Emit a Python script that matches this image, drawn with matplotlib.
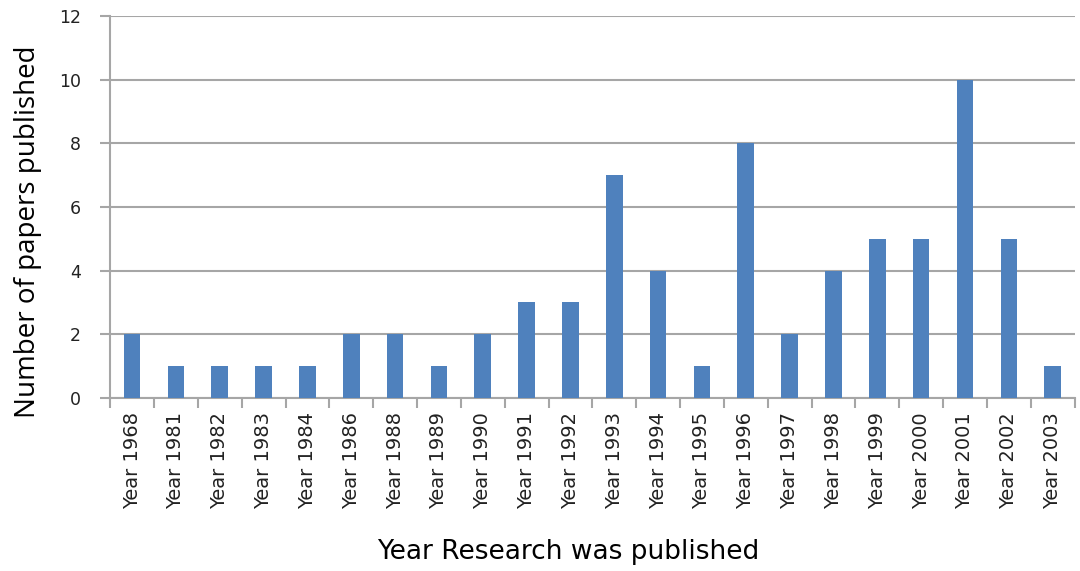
import matplotlib
matplotlib.use("Agg")
import matplotlib.pyplot as plt
import numpy as np

years = ["Year 1968", "Year 1981", "Year 1982", "Year 1983", "Year 1984", "Year 1986",
         "Year 1988", "Year 1989", "Year 1990", "Year 1991", "Year 1992", "Year 1993",
         "Year 1994", "Year 1995", "Year 1996", "Year 1997", "Year 1998", "Year 1999",
         "Year 2000", "Year 2001", "Year 2002", "Year 2003"]
papers = [2, 1, 1, 1, 1, 2, 2, 1, 2, 3, 3, 7, 4, 1, 8, 2, 4, 5, 5, 10, 5, 1]
yticks = [0, 2, 4, 6, 8, 10, 12]

fig = plt.figure(figsize=(10.8, 5.71), dpi=100)
ax = fig.add_axes([0.102, 0.303, 0.893, 0.669])

x = np.arange(len(years))
ax.bar(x, papers, width=0.38, color="#4F81BD", zorder=3)

ax.set_xlim(-0.5, len(years) - 0.5)
ax.set_ylim(0, 12)
ax.set_yticks(yticks)
ax.set_yticklabels([str(v) for v in yticks], fontsize=12.5, color="#222222")
ax.yaxis.grid(True, color="#a6a6a6", linewidth=1.5, zorder=0)
ax.set_axisbelow(True)

ax.set_xticks(x)
ax.set_xticklabels(years, rotation=90, fontsize=14, color="#222222")
ax.set_xticks(np.arange(-0.5, len(years)), minor=True)
ax.tick_params(axis="x", which="major", length=0, pad=10)
ax.tick_params(axis="x", which="minor", length=7, width=1.5, color="#a6a6a6")
ax.tick_params(axis="y", length=7, width=1.5, color="#a6a6a6", pad=14)

for s in ["top", "right"]:
    ax.spines[s].set_visible(False)
for s in ["left", "bottom"]:
    ax.spines[s].set_color("#a6a6a6")
    ax.spines[s].set_linewidth(1.5)

ax.set_ylabel("Number of papers published", fontsize=20, family="Open Sans", va="center")
ax.yaxis.set_label_coords(-0.085, 0.435)
ax.set_xlabel("Year Research was published", fontsize=19, family="DejaVu Sans")
ax.xaxis.set_label_coords(0.475, -0.37)

fig.savefig("out.png", dpi=100)
